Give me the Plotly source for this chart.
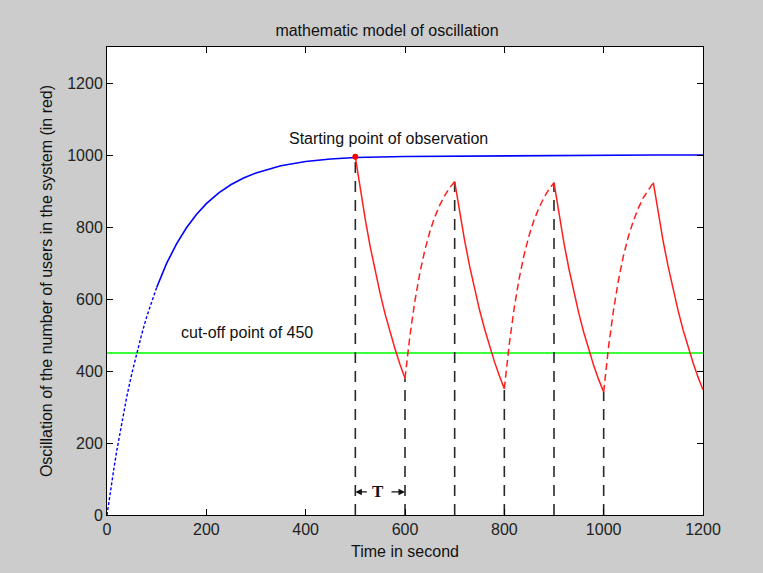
import plotly.graph_objects as go

# ---------------- data ----------------
blue_time = [0, 5, 10, 15, 20, 30, 40, 50, 60, 70, 80, 90, 100, 120, 140, 160, 180, 200,
             225, 250, 275, 300, 350, 400, 450, 500, 600, 700, 800, 900, 1000, 1100, 1200]
blue_users = [0, 49, 95, 139, 181, 259, 330, 393, 451, 503, 551, 593, 632, 699, 753, 798, 835, 865,
              895, 918, 936, 950, 970, 982, 989, 993, 996, 997, 998, 1000, 1000, 1000, 1000]

red_time = list(range(500, 1201, 10))
red_users = [995, 904, 821, 745, 677, 615, 558, 507, 461, 418, 380,
             499, 595, 673, 736, 787, 828, 861, 887, 909, 926,
             840, 763, 692, 628, 570, 518, 470, 426, 387, 351,
             475, 576, 658, 724, 777, 820, 854, 882, 905, 923,
             835, 756, 684, 619, 560, 507, 459, 415, 376, 342,
             469, 571, 654, 721, 775, 818, 853, 882, 904, 923,
             837, 759, 689, 625, 567, 514, 466, 423, 383, 348]

segment_bounds = [500, 600, 700, 800, 900, 1000, 1100, 1200]
observation_times = [500, 600, 700, 800, 900, 1000]
cutoff_level = 450
start_time = 500
blue_dotted_until = 100

x_ticks = [0, 200, 400, 600, 800, 1000, 1200]
y_ticks = [0, 200, 400, 600, 800, 1000, 1200]

title_text = "mathematic model of oscillation"
x_title = "Time in second"
y_title = "Oscillation of the number of users in the system (in red)"
label_start = "Starting point of observation"
label_cutoff = "cut-off point of 450"
label_period = "T"

# ---------------- build ----------------
FONT = "Liberation Sans, Arial, sans-serif"
fig = go.Figure()

# green cut-off line
fig.add_trace(go.Scatter(x=[0, 1200], y=[cutoff_level, cutoff_level], mode="lines",
                         line=dict(color="#3cff3c", width=2), hoverinfo="skip"))

# blue curve (steep start rendered dotted as in the original)
bx1 = [t for t in blue_time if t <= blue_dotted_until]
by1 = blue_users[:len(bx1)]
bx2 = [t for t in blue_time if t >= blue_dotted_until]
by2 = blue_users[len(bx1) - 1:]
fig.add_trace(go.Scatter(x=bx1, y=by1, mode="lines",
                         line=dict(color="rgb(0,0,255)", width=1.4, dash="3px,2px"),
                         hoverinfo="skip"))
fig.add_trace(go.Scatter(x=bx2, y=by2, mode="lines",
                         line=dict(color="rgb(0,0,255)", width=1.6), hoverinfo="skip"))

# black dashed verticals
red_lookup = dict(zip(red_time, red_users))
vx, vy = [], []
for t in observation_times:
    vx += [t, t, None]
    vy += [0, red_lookup[t], None]
fig.add_trace(go.Scatter(x=vx, y=vy, mode="lines",
                         line=dict(color="rgb(40,40,40)", width=1.6, dash="11px,8px"),
                         hoverinfo="skip"))

# red curve: falling solid, rising dashed
sx, sy, dx, dy = [], [], [], []
for k in range(len(segment_bounds) - 1):
    a, b = segment_bounds[k], segment_bounds[k + 1]
    xs = [t for t in red_time if a <= t <= b]
    ys = [red_lookup[t] for t in xs]
    if k % 2 == 0:
        sx += xs + [None]; sy += ys + [None]
    else:
        dx += xs + [None]; dy += ys + [None]
fig.add_trace(go.Scatter(x=sx, y=sy, mode="lines",
                         line=dict(color="rgb(255,30,30)", width=1.5), hoverinfo="skip"))
fig.add_trace(go.Scatter(x=dx, y=dy, mode="lines",
                         line=dict(color="rgb(255,30,30)", width=1.5, dash="7px,4px"),
                         hoverinfo="skip"))

# starting point marker
fig.add_trace(go.Scatter(x=[start_time], y=[red_lookup[start_time]], mode="markers",
                         marker=dict(color="red", size=6), hoverinfo="skip"))

# annotations
fig.add_annotation(x=362, y=1047, text=label_start, showarrow=False, xanchor="left",
                   yanchor="middle", font=dict(family=FONT, size=16, color="#111"))
fig.add_annotation(x=145, y=508, text=label_cutoff, showarrow=False, xanchor="left",
                   yanchor="middle", font=dict(family=FONT, size=16, color="#111"))
fig.add_annotation(x=546, y=64, text="<b>" + label_period + "</b>", showarrow=False,
                   xanchor="center", yanchor="middle",
                   font=dict(family="Liberation Serif, Times New Roman, serif", size=17, color="#111"))
fig.add_annotation(x=observation_times[0], y=64, ax=13, ay=0, text="", showarrow=True,
                   arrowhead=2, arrowsize=1, arrowwidth=1.3, arrowcolor="#111", standoff=0)
fig.add_annotation(x=observation_times[1], y=64, ax=-15, ay=0, text="", showarrow=True,
                   arrowhead=2, arrowsize=1, arrowwidth=1.3, arrowcolor="#111", standoff=0)

axis_common = dict(showgrid=False, zeroline=False, showline=True, linecolor="black",
                   linewidth=1, mirror="ticks", ticks="inside", ticklen=6, tickcolor="black",
                   tickfont=dict(family=FONT, size=16, color="#222"))

fig.update_xaxes(range=[0, 1200], tickvals=x_ticks, ticktext=[str(v) for v in x_ticks],
                 title=dict(text=x_title, font=dict(family=FONT, size=16, color="#111"), standoff=8),
                 **axis_common)
fig.update_yaxes(range=[0, 1300], tickvals=y_ticks, ticktext=[str(v) for v in y_ticks],
                 title=dict(text=y_title, font=dict(family=FONT, size=16, color="#111"), standoff=10),
                 **axis_common)

fig.update_layout(
    width=763, height=573, autosize=False,
    margin=dict(l=107, r=60, t=47, b=58),
    paper_bgcolor="rgb(204,204,204)", plot_bgcolor="white",
    showlegend=False,
    title=dict(text=title_text, x=387 / 763, xanchor="center",
               y=1 - 30 / 573, yanchor="middle",
               font=dict(family=FONT, size=16, color="#111")),
)
fig.update_layout(title_xref="container")

fig.write_html("out.html")
